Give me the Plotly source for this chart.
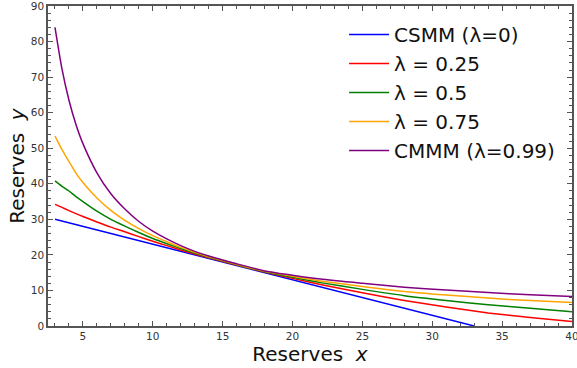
import plotly.graph_objects as go

# Reserve x grid
x_vals = [3, 3.5, 4, 4.5, 5, 6, 7, 8, 9, 10, 11, 12, 13, 14, 16, 18, 20, 22, 25, 28, 31, 34, 37, 40]

# CSMM (lambda = 0): straight line
csmm_x = [3, 33]
csmm_y = [30, 0]

lam_025 = [34.2, 33.35, 32.45, 31.6, 30.8, 29.25, 27.8, 26.5, 25.13, 23.85, 22.6, 21.4, 20.26, 19.19,
           17.14, 15.15, 13.39, 11.68, 9.36, 7.18, 5.32, 3.68, 2.4, 1.26]
lam_05 = [40.8, 39.3, 37.97, 36.4, 35.0, 32.3, 30.0, 28.1, 26.3, 24.6, 23.15, 21.8, 20.5, 19.35,
          17.26, 15.27, 13.7, 12.2, 10.3, 8.54, 7.18, 5.97, 4.96, 4.02]
lam_075 = [53.4, 49.6, 46.25, 43.0, 40.35, 36.0, 32.5, 29.7, 27.4, 25.4, 23.7, 22.1, 20.7, 19.5,
           17.36, 15.37, 13.98, 12.67, 11.12, 9.72, 8.72, 7.84, 7.14, 6.62]
lam_099 = [84.0, 72.3, 63.5, 56.7, 51.3, 43.1, 37.2, 32.9, 29.4, 26.7, 24.5, 22.6, 21.0, 19.7,
           17.5, 15.5, 14.3, 13.2, 12.0, 10.9, 10.1, 9.4, 8.8, 8.3]

names = ["CSMM (λ=0)", "λ = 0.25", "λ = 0.5", "λ = 0.75", "CMMM (λ=0.99)"]
colors = ["#0000ff", "#ff0000", "#008000", "#ffa500", "#800080"]

fig = go.Figure()
series = [(csmm_x, csmm_y)] + [(x_vals, s) for s in (lam_025, lam_05, lam_075, lam_099)]
for (xs, ys), nm, c in zip(series, names, colors):
    fig.add_trace(go.Scatter(x=xs, y=ys, mode="lines", name=nm,
                             line=dict(color=c, width=1.5, shape="spline", smoothing=0.6)))

axis_common = dict(
    showline=True, linecolor="#555555", linewidth=1.5, mirror="ticks",
    ticks="inside", ticklen=5, tickwidth=1, tickcolor="#555555",
    showgrid=False, zeroline=False, automargin=False, ticklabeloverflow="allow",
    tickfont=dict(family="DejaVu Sans", size=10.5, color="#333333"),
)

fig.update_layout(
    width=577, height=368,
    margin=dict(l=48, r=5, t=6, b=42),
    plot_bgcolor="white", paper_bgcolor="white",
    xaxis=dict(range=[2.5, 40], tickvals=[5, 10, 15, 20, 25, 30, 35, 40],
               minor=dict(ticks="inside", ticklen=3, tickcolor="#555555", dtick=1, tick0=0),
               title=dict(text="Reserves  <i>x</i>", font=dict(family="DejaVu Sans", size=20, color="#111111"),
                          standoff=6),
               **axis_common),
    yaxis=dict(range=[0, 90], tickvals=[0, 10, 20, 30, 40, 50, 60, 70, 80, 90],
               minor=dict(ticks="inside", ticklen=3, tickcolor="#555555", dtick=2, tick0=0),
               title=dict(text="Reserves  <i>y</i>", font=dict(family="DejaVu Sans", size=20, color="#111111"),
                          standoff=1),
               **axis_common),
    legend=dict(x=0.565, y=0.972, xanchor="left", yanchor="top",
                bgcolor="rgba(0,0,0,0)", borderwidth=0,
                font=dict(family="DejaVu Sans", size=20, color="#111111"),
                tracegroupgap=2, itemwidth=40),
    showlegend=True,
)

fig.write_html("out.html", config={"displayModeBar": False},
               post_script="document.body.style.margin='0px';document.body.style.overflow='hidden';")
